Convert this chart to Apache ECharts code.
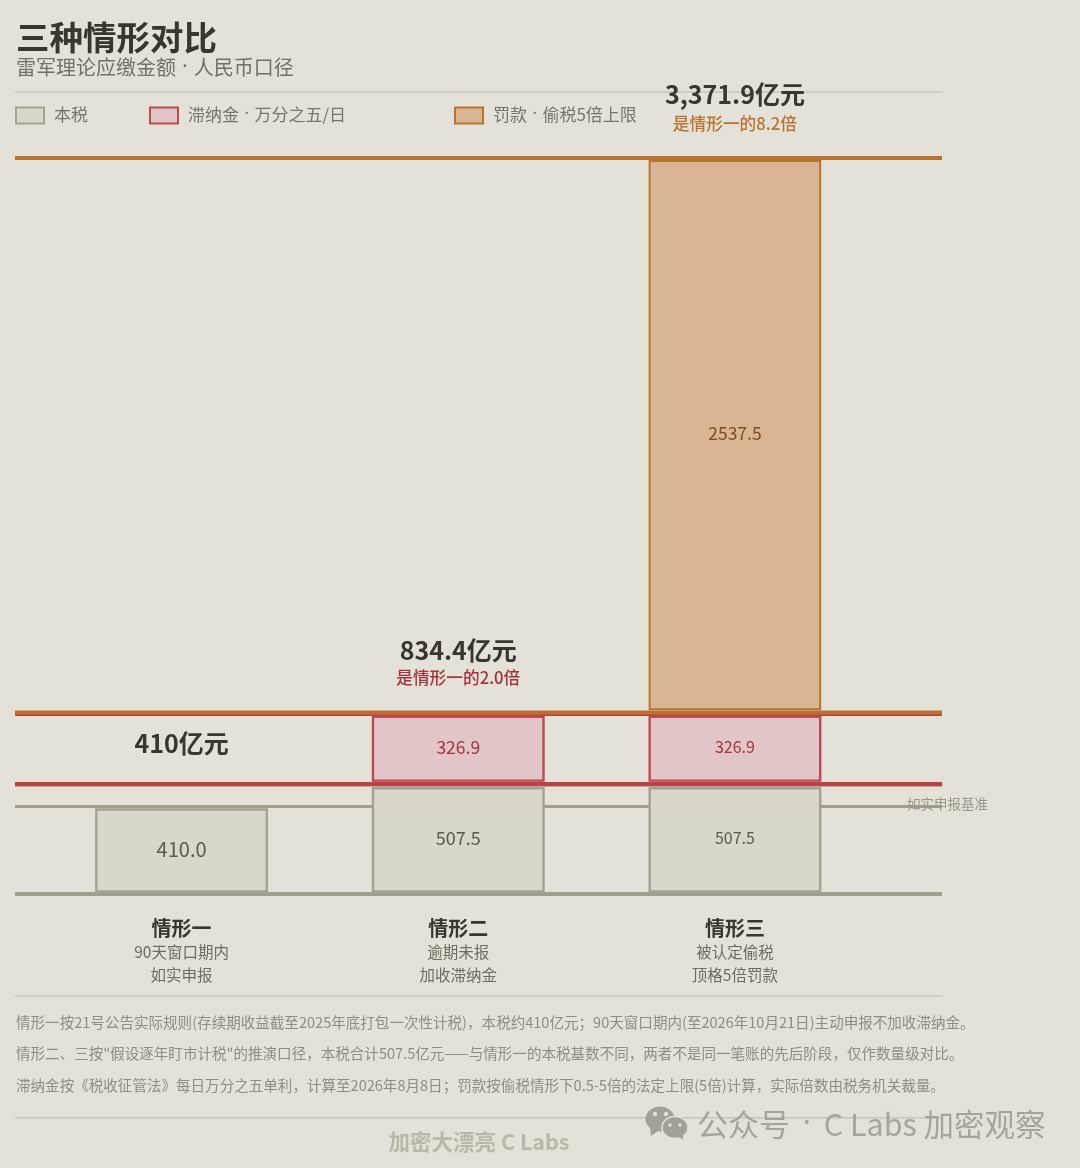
<!DOCTYPE html>
<html><head><meta charset="utf-8">
<style>html,body{margin:0;padding:0;background:#e4e1d8}#c{width:1080px;height:1168px}</style>
<script src="https://cdn.jsdelivr.net/npm/echarts@6/dist/echarts.min.js"></script>
</head><body><div id="c"></div>
<script>
const FONT = '"Noto Sans CJK SC","Noto Sans",sans-serif';
const LATIN = '"Noto Sans",sans-serif';
// ---- data ----
const categories = ['情形一', '情形二', '情形三'];
const categoryNotes = [['90天窗口期内', '如实申报'], ['逾期未报', '加收滞纳金'], ['被认定偷税', '顶格5倍罚款']];
const baseTax = [410, 507.5, 507.5];
const lateFee = [0, 326.9, 326.9];
const penalty = [0, 0, 2537.5];
const totals = [410, 834.4, 3371.9];
const totalLabels = ['410亿元', '834.4亿元', '3,371.9亿元'];
const multipleLabels = ['', '是情形一的2.0倍', '是情形一的8.2倍'];
const ruleValues = [0, 410, 507.5, 507.5, 834.4, 834.4, 3371.9];
const seriesNames = ['本税', '滞纳金 · 万分之五/日', '罚款 · 偷税5倍上限'];
const titleText = '三种情形对比';
const subtitleText = '雷军理论应缴金额 · 人民币口径';
const baselineNote = '如实申报基准';
const footnotes = [
  '情形一按21号公告实际规则(存续期收益截至2025年底打包一次性计税)，本税约410亿元；90天窗口期内(至2026年10月21日)主动申报不加收滞纳金。',
  '情形二、三按"假设逐年盯市计税"的推演口径，本税合计507.5亿元——与情形一的本税基数不同，两者不是同一笔账的先后阶段，仅作数量级对比。',
  '滞纳金按《税收征管法》每日万分之五单利，计算至2026年8月8日；罚款按偷税情形下0.5-5倍的法定上限(5倍)计算，实际倍数由税务机关裁量。'
];
const footerText = '加密大漂亮 C Labs';
const watermarkParts = ['公众号', ' · ', 'C Labs 加密观察'];

// ---- styles ----
const yMax = totals[2];
const C = { bg:'#e4e1d8', ink:'#38362f', sub:'#737065', rule:'#cfccc1', grey:'#a19e90', red:'#bd4049', orange:'#b8722f' };
const segStyles = [
  { fill:'#d9d7cb', stroke:'#a5a294', text:'#5c5a50', sizes:[20,18,16], topInset:5, line:2.4 },
  { fill:'#e2c5c6', stroke:'#bc4a52', text:'#a3343e', sizes:[16,17.5,16], topInset:5, line:2.4 },
  { fill:'#dab594', stroke:'#b5752f', text:'#7a4c1e', sizes:[17,17,17.5], topInset:3, line:2 }
];
const ruleStyles = [
  { color:C.grey, width:4, dy:0 },
  { color:C.grey, width:3, dy:2 },
  { color:C.grey, width:3, dy:2 },
  { color:C.red, width:4, dy:0.8 },
  { color:C.red, width:3, dy:2.6 },
  { color:C.orange, width:4, dy:0.6 },
  { color:C.orange, width:4, dy:0 }
];
const totalOffsets = [-49, -49, -51];
// narrow middle dot: the separators in the reference use a Latin-width dot
const dotted = s => s.replace(' · ', '{d| · }');

function segData(values, below) {
  return values.map((v, i) => [i, below[i], below[i] + v, v]).filter(d => d[3] > 0);
}
function segmentSeries(idx, values, below) {
  const st = segStyles[idx];
  return {
    type:'custom', name:seriesNames[idx], xAxisIndex:0, yAxisIndex:0, z:5, silent:true,
    itemStyle:{ color:st.fill, borderColor:st.stroke, borderWidth:2 },
    encode:{ x:0, y:[1,2] },
    data:segData(values, below),
    renderItem(params, api) {
      const cat = api.value(0);
      const a = api.coord([cat, api.value(1)]);
      const b = api.coord([cat, api.value(2)]);
      const w = api.size([1, 0])[0] * 0.62;
      const top = b[1] + st.topInset, bottom = a[1] - 2.6;
      return { type:'group', children:[
        { type:'rect', shape:{ x:a[0] - w / 2 + 0.5, y:top, width:w - 1, height:bottom - top },
          style:{ fill:st.fill, stroke:st.stroke, lineWidth:st.line } },
        { type:'text', style:{ text:api.value(3).toFixed(1), x:a[0], y:(top + bottom) / 2 - 1.5,
          fill:st.text, font:'400 ' + st.sizes[cat] + 'px ' + FONT, align:'center', verticalAlign:'middle' } }
      ]};
    }
  };
}
const belowLate = baseTax;
const belowPenalty = baseTax.map((v, i) => v + lateFee[i]);

const ruleSeries = {
  type:'custom', name:'rules', xAxisIndex:1, yAxisIndex:1, z:2, silent:true,
  encode:{ y:0 },
  data:ruleValues.map((v, i) => [v, i]),
  renderItem(params, api) {
    const s = ruleStyles[api.value(1)];
    const p = api.coord([0, api.value(0)]);
    const cs = params.coordSys;
    const y = p[1] + s.dy;
    return { type:'rect', shape:{ x:cs.x, y:y - s.width / 2, width:cs.width, height:s.width }, style:{ fill:s.color } };
  }
};
const noteSeries = {
  type:'custom', name:'note', xAxisIndex:1, yAxisIndex:1, z:6, silent:true,
  encode:{ y:0 }, data:[[totals[0]]],
  renderItem(params, api) {
    const p = api.coord([0, api.value(0)]);
    const cs = params.coordSys;
    return { type:'text', style:{ text:baselineNote, x:cs.x + cs.width + 46, y:p[1] - 0.5, fill:'#9a978a',
      font:'400 13.5px ' + FONT, align:'right', verticalAlign:'middle' } };
  }
};
const totalSeries = {
  type:'scatter', name:'totals', xAxisIndex:0, yAxisIndex:0, symbolSize:0, z:6, silent:true,
  itemStyle:{ opacity:1 },
  data:totals.map((v, i) => ({ value:[i, v], label:{ offset:[0, totalOffsets[i]] } })),
  label:{ show:true, position:'top', distance:0, color:C.ink,
    fontFamily:FONT, fontWeight:700, fontSize:25, formatter:p => totalLabels[p.dataIndex] }
};
const multipleColors = ['#a3343e', '#a3343e', '#b8722f'];
const multipleSeries = {
  type:'scatter', name:'multiples', xAxisIndex:0, yAxisIndex:0, symbolSize:0, z:6, silent:true,
  itemStyle:{ opacity:1 },
  data:totals.map((v, i) => ({ value:[i, v], label:{ color:multipleColors[i] } })),
  label:{ show:true, position:'top', distance:0, offset:[0,-26],
    fontFamily:FONT, fontWeight:500, fontSize:16.7, formatter:p => multipleLabels[p.dataIndex] }
};

function legendItem(i, left) {
  const st = segStyles[i];
  return { show:true, left, top:106, orient:'horizontal', selectedMode:false, padding:0,
    itemWidth:28, itemHeight:16, itemGap:0, icon:'rect',
    data:[{ name:seriesNames[i], itemStyle:{ color:st.fill, borderColor:st.stroke, borderWidth:2 } }],
    formatter:dotted,
    textStyle:{ color:'#77746a', fontFamily:FONT, fontSize:17, padding:[0,0,2,5],
      rich:{ d:{ color:'#77746a', fontFamily:LATIN, fontSize:17, padding:[0,1,0,1] } } } };
}

const graphic = [
  { type:'rect', shape:{ x:15, y:91, width:928, height:2 }, style:{ fill:C.rule } },
  { type:'rect', shape:{ x:15, y:995, width:928, height:2 }, style:{ fill:C.rule } },
  { type:'rect', shape:{ x:15, y:1117, width:928, height:1.5 }, style:{ fill:'#c6c3b8' } },
  ...footnotes.map((t, i) => ({ type:'text', x:16, y:[1022.5,1053.5,1085.5][i],
    style:{ text:t, fill:'#8f8c80', font:'400 14.55px ' + FONT, verticalAlign:'middle', align:'left' } })),
  { type:'text', x:479, y:1142, style:{ text:footerText, fill:'#bab7aa', font:'700 21.5px ' + FONT, align:'center', verticalAlign:'middle' } },
  { type:'text', x:697, y:1124, z:3, style:{
      text:'{a|' + watermarkParts[0] + '}{d|' + watermarkParts[1] + '}{b|' + watermarkParts[2] + '}',
      verticalAlign:'middle', align:'left',
      rich:{
        a:{ fill:'#a6a49a', fontFamily:FONT, fontSize:31 },
        d:{ fill:'#a6a49a', fontFamily:LATIN, fontSize:30, padding:[0,5,0,5] },
        b:{ fill:'#a6a49a', fontFamily:FONT, fontSize:30.5 }
      } } },
  { type:'group', z:3, children:[
    { type:'ellipse', shape:{ cx:660, cy:1119, rx:14.5, ry:12.5 }, style:{ fill:'#a3a197' } },
    { type:'polygon', shape:{ points:[[650,1128],[651,1136],[658,1131]] }, style:{ fill:'#a3a197' } },
    { type:'ellipse', shape:{ cx:675, cy:1127.5, rx:13, ry:11 }, style:{ fill:'#a3a197', stroke:C.bg, lineWidth:1.5 } },
    { type:'polygon', shape:{ points:[[678,1136],[683,1140],[683,1133]] }, style:{ fill:'#a3a197' } },
    { type:'circle', shape:{ cx:655, cy:1114, r:2.2 }, style:{ fill:C.bg } },
    { type:'circle', shape:{ cx:666, cy:1114, r:2.2 }, style:{ fill:C.bg } },
    { type:'circle', shape:{ cx:670, cy:1125, r:1.7 }, style:{ fill:C.bg } },
    { type:'circle', shape:{ cx:680, cy:1125, r:1.7 }, style:{ fill:C.bg } }
  ]}
];

const chart = echarts.init(document.getElementById('c'), null, { renderer:'canvas', width:1080, height:1168 });
chart.setOption({
  animation:false,
  backgroundColor:C.bg,
  textStyle:{ fontFamily:FONT },
  title:[{ text:titleText, subtext:dotted(subtitleText), left:16, top:16, padding:0, itemGap:-3,
    textStyle:{ color:C.ink, fontSize:33.5, fontWeight:700, fontFamily:FONT, lineHeight:42 },
    subtextStyle:{ color:C.sub, fontSize:20, fontFamily:FONT, lineHeight:24,
      rich:{ d:{ color:C.sub, fontFamily:LATIN, fontSize:20, padding:[0,1,0,1] } } } }],
  legend:[legendItem(0,15), legendItem(1,149), legendItem(2,454)],
  grid:[
    { left:43.25, width:830, top:158, bottom:274 },
    { left:15, width:927, top:158, bottom:274 }
  ],
  xAxis:[
    { type:'category', gridIndex:0, data:categories,
      axisLine:{ show:false }, axisTick:{ show:false }, splitLine:{ show:false },
      axisLabel:{ margin:21, interval:0, fontFamily:FONT,
        formatter:(v, i) => '{a|' + v + '}\n{b|' + categoryNotes[i][0] + '}\n{b|' + categoryNotes[i][1] + '}',
        rich:{ a:{ fontFamily:FONT, fontSize:20, fontWeight:700, color:C.ink, lineHeight:26 },
               b:{ fontFamily:FONT, fontSize:15.5, color:'#6e6b60', lineHeight:22.5 } } } },
    { type:'value', gridIndex:1, min:0, max:1, show:false }
  ],
  yAxis:[
    { type:'value', gridIndex:0, min:0, max:yMax, show:false },
    { type:'value', gridIndex:1, min:0, max:yMax, show:false }
  ],
  graphic,
  series:[
    ruleSeries,
    segmentSeries(0, baseTax, baseTax.map(() => 0)),
    segmentSeries(1, lateFee, belowLate),
    segmentSeries(2, penalty, belowPenalty),
    totalSeries, multipleSeries, noteSeries
  ]
});
</script></body></html>
